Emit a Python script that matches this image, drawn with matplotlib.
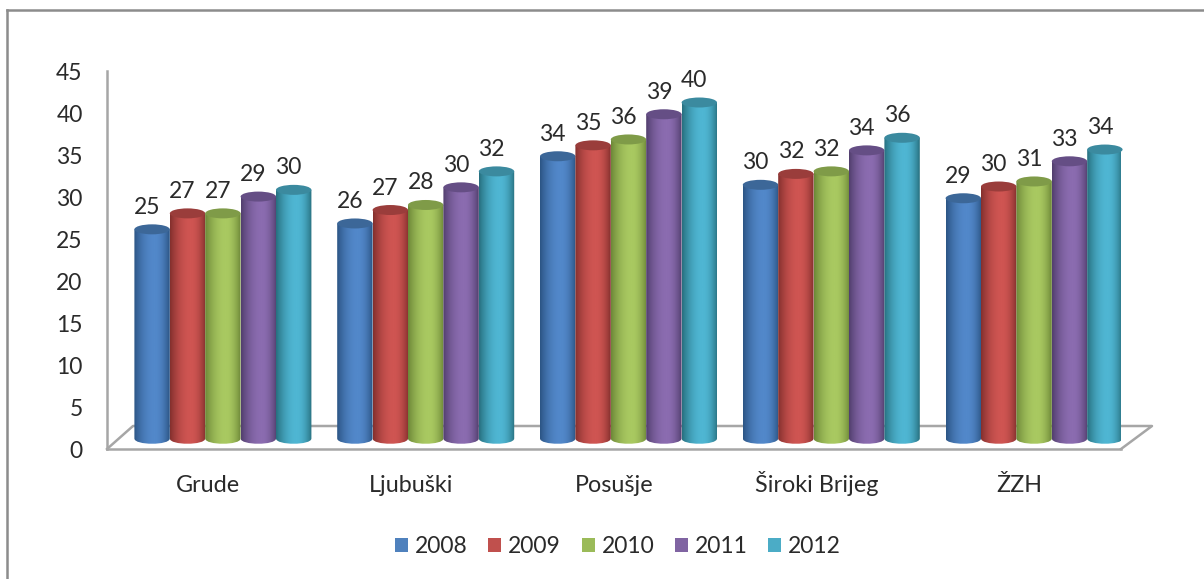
import numpy as np
import matplotlib
matplotlib.use('Agg')
import matplotlib.pyplot as plt
from matplotlib.colors import LinearSegmentedColormap
from matplotlib.lines import Line2D
from matplotlib.patches import Ellipse, Patch, PathPatch
from matplotlib.path import Path

categories = ['Grude', 'Ljubuški', 'Posušje', 'Široki Brijeg', 'ŽZH']
years = ['2008', '2009', '2010', '2011', '2012']
s2008 = [24.9, 25.6, 33.6, 30.2, 28.6]
s2009 = [26.8, 27.2, 34.9, 31.5, 30.0]
s2010 = [26.8, 27.8, 35.6, 31.8, 30.6]
s2011 = [28.8, 29.9, 38.6, 34.3, 33.0]
s2012 = [29.6, 31.8, 40.0, 35.8, 34.4]
series = [s2008, s2009, s2010, s2011, s2012]

# edge, centre, top of each cylinder
shades = [('#2c5585', '#5288ca', '#3c6798'),
          ('#84302e', '#cf5552', '#9a3d3b'),
          ('#6d8838', '#a9c961', '#7f9b48'),
          ('#523f6e', '#8b6cb0', '#654e85'),
          ('#27707f', '#4fb6d3', '#3b8a9f')]
legend_colors = ['#4f81bd', '#c0504d', '#9bbb59', '#8064a2', '#4bacc6']

plt.rcParams['font.family'] = ['Lato', 'DejaVu Sans']
W, H = 1204, 579
fig = plt.figure(figsize=(W / 100, H / 100), dpi=100)
ax = fig.add_axes([107 / W, 1 - 449 / H, (1121 - 107) / W, (449 - 71) / H])
ax.set_xlim(0, 5)
ax.set_ylim(0, 45)

px_x = 5 / (1121 - 107)   # data units per pixel
px_y = 45 / (449 - 71)
bar_w = 35.4 * px_x
shift_x = 14.5 * px_x     # depth shift of the bars
base = 10.5 * px_y
ell_h = 10 * px_y

# floor
floor_c = '#a6a6a6'
ax.plot([0, 26 * px_x, 5 + 31 * px_x, 5], [0, 23 * px_y, 23 * px_y, 0],
        color=floor_c, lw=1.8, clip_on=False, zorder=1)

grad = np.linspace(0, 1, 64)
grad = np.where(grad < 0.58, grad / 0.58, (1 - grad) / 0.42)
grad = (1 - (1 - grad) ** 2.0)[None, :]

for i, (vals, sh) in enumerate(zip(series, shades)):
    cmap = LinearSegmentedColormap.from_list('c', [sh[0], sh[1]])
    for j, v in enumerate(vals):
        x0 = j + 0.5 + shift_x + (i - 2.5) * bar_w
        x1 = x0 + bar_w
        xc = (x0 + x1) / 2
        top = base + v
        z = 2 + j * 10 + i
        verts = [(x0, top), (x0, base), (x0, base - ell_h * 0.7), (x1, base - ell_h * 0.7),
                 (x1, base), (x1, top), (x0, top)]
        codes = [Path.MOVETO, Path.LINETO, Path.CURVE4, Path.CURVE4, Path.CURVE4,
                 Path.LINETO, Path.CLOSEPOLY]
        body = PathPatch(Path(verts, codes), fc='none', ec='none', transform=ax.transData)
        ax.add_patch(body)
        im = ax.imshow(grad, extent=(x0, x1, base - ell_h, top), cmap=cmap, aspect='auto',
                       vmin=0, vmax=1, zorder=z, interpolation='bilinear')
        im.set_clip_path(body)
        ax.add_patch(Ellipse((xc, top), bar_w, ell_h, fc=sh[2], ec='none', zorder=z + 0.5,
                             clip_on=False))
        ax.text(xc - 5 * px_x, top + 11.5 * px_y, f'{v:.0f}', ha='center', va='bottom',
                fontsize=16.5, color='#2a2a2a', zorder=200, clip_on=False)

ax.set_xlim(0, 5)
ax.set_ylim(0, 45)
ax.set_yticks(range(0, 46, 5))
ax.set_xticks(np.arange(5) + 0.5)
ax.set_xticklabels(categories, va='baseline')
ax.tick_params(axis='y', length=0, labelsize=16.5, labelcolor='#2a2a2a', pad=17.5)
ax.tick_params(axis='x', length=0, labelsize=16.8, labelcolor='#2a2a2a', pad=31)
for side in ['top', 'right']:
    ax.spines[side].set_visible(False)
for side in ['left', 'bottom']:
    ax.spines[side].set_color(floor_c)
    ax.spines[side].set_linewidth(1.8)
ax.patch.set_visible(False)

# outer frame, only left and top are in the crop
fig.add_artist(Line2D([7 / W, 7 / W], [0, 1 - 10 / H], color='#8c8c8c', lw=1.8))
fig.add_artist(Line2D([7 / W, 1], [1 - 10 / H, 1 - 10 / H], color='#8c8c8c', lw=1.8))

handles = [Patch(fc=c, ec='none') for c in legend_colors]
fig.legend(handles, years, ncol=5, loc='center', bbox_to_anchor=(618 / W, 1 - 546.5 / H),
           frameon=False, fontsize=16.5, handlelength=0.57, handleheight=0.57,
           handletextpad=0.3, columnspacing=0.9, labelcolor='#2a2a2a')

fig.savefig('out.png', dpi=100)
